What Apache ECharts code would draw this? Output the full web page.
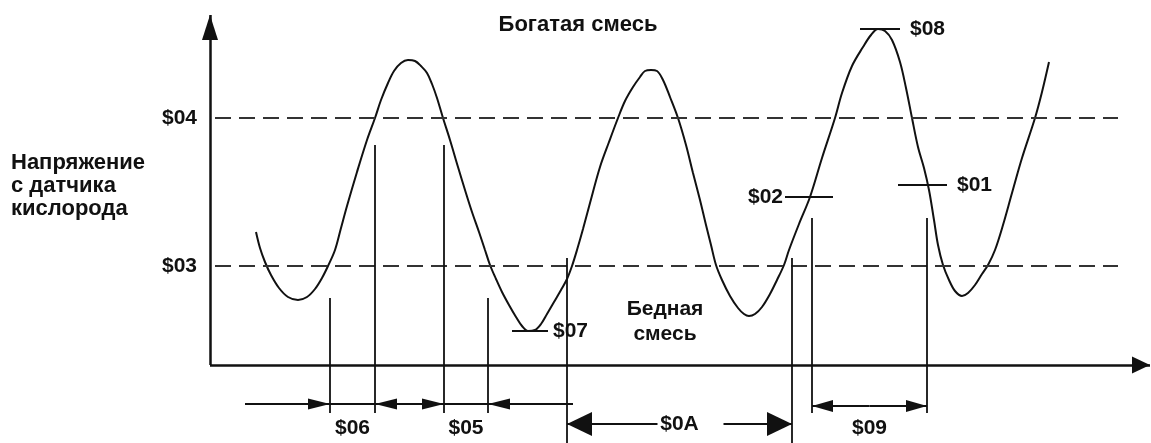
<!DOCTYPE html>
<html>
<head>
<meta charset="utf-8">
<script src="https://cdn.jsdelivr.net/npm/echarts@6/dist/echarts.min.js"></script>
<style>
  html, body { margin: 0; padding: 0; background: #fff; }
  #chart { width: 1151px; height: 443px; }
</style>
</head>
<body>
<div id="chart"></div>
<script>
// ---- DATA (time / voltage, arbitrary schematic units) ----
const curveT = [46, 50, 55, 61, 69, 78, 88, 97, 105, 112, 118, 125, 131, 137, 147, 157, 165, 171, 178, 184, 191, 198,
  205, 211, 217, 222, 227, 233, 240, 248, 255, 262, 269, 275, 280, 286, 292, 299, 306, 312, 318, 325, 331, 337, 344,
  351, 357, 362, 367, 373, 380, 390, 399, 408, 415, 423, 430, 435, 441, 447, 453, 460, 468, 476, 483, 490, 496, 501,
  506, 512, 520, 528, 534, 539, 545, 552, 560, 567, 574, 579, 589, 600, 612, 625, 632, 642, 653, 661, 668, 675, 682,
  690, 696, 702, 708, 714, 719, 724, 728, 733, 739, 745, 752, 758, 765, 772, 778, 785, 793, 802, 812, 825, 832, 839];
const curveV = [133, 117, 103, 90, 77, 68, 65, 68, 76, 87, 99, 115, 137, 159, 193, 225, 247, 265, 282, 294, 302, 305,
  304, 299, 292, 281, 267, 247, 225, 198, 175, 153, 133, 115, 100, 86, 73, 60, 48, 39, 34, 35, 41, 51, 63,
  75, 86, 99, 115, 136, 162, 198, 223, 247, 264, 278, 288, 294, 295, 294, 285, 268, 247, 220, 192, 165, 140, 120,
  100, 85, 69, 57, 51, 49, 51, 58, 71, 85, 100, 115, 141, 168, 207, 247, 272, 299, 318, 330, 336, 334, 325,
  303, 277, 247, 218, 197, 175, 145, 120, 100, 85, 74, 69, 72, 80, 91, 100, 115, 140, 172, 207, 247, 273, 303];

const thresholdNames = ['$04', '$03'];
const thresholdValues = [247, 99];

const levelMarkNames = ['$08', '$02', '$01', '$07'];
const levelMarkValues = [336, 168, 180, 34];
const levelMarkFrom = [650, 575, 688, 302];
const levelMarkTo = [690, 623, 737, 338];

const intervalNames = ['$06', '$05', '$0A', '$09'];
const intervalFrom = [120, 234, 357, 602];
const intervalTo = [165, 278, 582, 717];
const markerTopFrom = [67, 220, 107, 147];
const markerTopTo = [220, 67, 107, 147];

// ---- LAYOUT / STYLE ----
const INK = '#111';
const FONT = '"Liberation Sans", Arial, sans-serif';
const X_MAX = 940, Y_MIN = -78, Y_MAX = 350;
const dashSpan = [5, 908];
const levelLabelPos = ['end', 'start', 'end', 'end'];
const levelLabelDist = [10, 2, 10, 5];
const intervalRow = [-39, -39, -59, -41];
const intervalBottom = [-48, -48, -78, -48];
const intervalStyle = ['inward', 'inward', 'gap', 'outward'];
const intervalLabelShift = [24, 24, 0, 22];

const txt = (size) => ({ color: INK, fontFamily: FONT, fontWeight: 'bold', fontSize: size,
  textBorderWidth: 0, textBorderColor: 'transparent', opacity: 1 });

function arrowEnd(coord, w, h) {
  return { coord, symbol: 'triangle', symbolSize: [w, h], symbolOffset: [0, h / 2] };
}
function plainEnd(coord) { return { coord, symbol: 'none' }; }

// axes
const axisLines = [
  [plainEnd([0, 0]), arrowEnd([0, Y_MAX], 16, 25)],
  [plainEnd([0, 0]), arrowEnd([X_MAX, 0], 17, 18)]
];

// thresholds
const thresholdLines = thresholdValues.map((v, i) => [
  { coord: [dashSpan[0], v], symbol: 'none',
    label: Object.assign({ show: true, position: 'start', distance: 18, formatter: thresholdNames[i] }, txt(21)) },
  { coord: [dashSpan[1], v], symbol: 'none' }
]);

// level marks
const levelLines = levelMarkValues.map((v, i) => [
  { coord: [levelMarkFrom[i], v], symbol: 'none',
    label: Object.assign({ show: true, position: levelLabelPos[i], distance: levelLabelDist[i], formatter: levelMarkNames[i] }, txt(21)) },
  { coord: [levelMarkTo[i], v], symbol: 'none' }
]);

// interval markers
const intervalLines = [];
const labelPoints = [];
const tail = 85;
intervalNames.forEach((name, i) => {
  const a = intervalFrom[i], b = intervalTo[i], row = intervalRow[i], bot = intervalBottom[i];
  intervalLines.push([plainEnd([a, markerTopFrom[i]]), plainEnd([a, bot])]);
  intervalLines.push([plainEnd([b, markerTopTo[i]]), plainEnd([b, bot])]);
  const c = (a + b) / 2;
  if (intervalStyle[i] === 'inward') {
    intervalLines.push([plainEnd([a - tail, row]), arrowEnd([a, row], 11, 22)]);
    intervalLines.push([plainEnd([a, row]), plainEnd([b, row])]);
    intervalLines.push([plainEnd([b + tail, row]), arrowEnd([b, row], 11, 22)]);
  } else if (intervalStyle[i] === 'gap') {
    intervalLines.push([plainEnd([c - 22, row]), arrowEnd([a, row], 24, 25)]);
    intervalLines.push([plainEnd([c + 44, row]), arrowEnd([b, row], 24, 25)]);
  } else {
    intervalLines.push([plainEnd([c, row]), arrowEnd([a, row], 12, 21)]);
    intervalLines.push([plainEnd([c, row]), arrowEnd([b, row], 12, 21)]);
  }
  labelPoints.push({ name, value: [c, row], label: { offset: [0, intervalLabelShift[i]] } });
});

function markSeries(data, lineStyle) {
  return {
    type: 'line', data: [], silent: true,
    markLine: {
      silent: true, symbol: 'none', animation: false,
      label: { show: false },
      emphasis: { disabled: true },
      lineStyle: Object.assign({ color: INK, type: 'solid', width: 2 }, lineStyle || {}),
      data
    }
  };
}

const chart = echarts.init(document.getElementById('chart'), null, { renderer: 'canvas' });
chart.setOption({
  animation: false,
  backgroundColor: '#fff',
  grid: { left: 210, right: 1, top: 15, bottom: 0 },
  xAxis: { type: 'value', min: 0, max: X_MAX, show: false },
  yAxis: { type: 'value', min: Y_MIN, max: Y_MAX, show: false },
  graphic: [
    { type: 'text', left: 11, top: 151,
      style: { text: 'Напряжение\nс датчика\nкислорода', fill: INK, font: 'bold 22px ' + FONT, lineHeight: 23 } },
    { type: 'text', x: 578, y: 25,
      style: { text: 'Богатая смесь', fill: INK, font: 'bold 22px ' + FONT, align: 'center', verticalAlign: 'middle', textAlign: 'center', textVerticalAlign: 'middle' } },
    { type: 'text', x: 665, y: 322,
      style: { text: 'Бедная\nсмесь', fill: INK, font: 'bold 21px ' + FONT, lineHeight: 25, align: 'center', verticalAlign: 'middle', textAlign: 'center', textVerticalAlign: 'middle' } }
  ],
  series: [
    markSeries(thresholdLines, { type: [16, 8], width: 2, color: '#333' }),
    {
      name: 'Напряжение', type: 'line', smooth: 0.35, symbol: 'none', silent: true,
      lineStyle: { color: INK, width: 2 },
      data: curveT.map((t, i) => [t, curveV[i]])
    },
    markSeries(axisLines, { width: 2.5 }),
    markSeries(levelLines, { width: 2 }),
    markSeries(intervalLines, { width: 1.8 }),
    {
      type: 'scatter', symbolSize: 0, silent: true,
      itemStyle: { color: INK },
      label: Object.assign({ show: true, position: 'inside', formatter: '{b}' }, txt(21)),
      data: labelPoints
    }
  ]
});
</script>
</body>
</html>
